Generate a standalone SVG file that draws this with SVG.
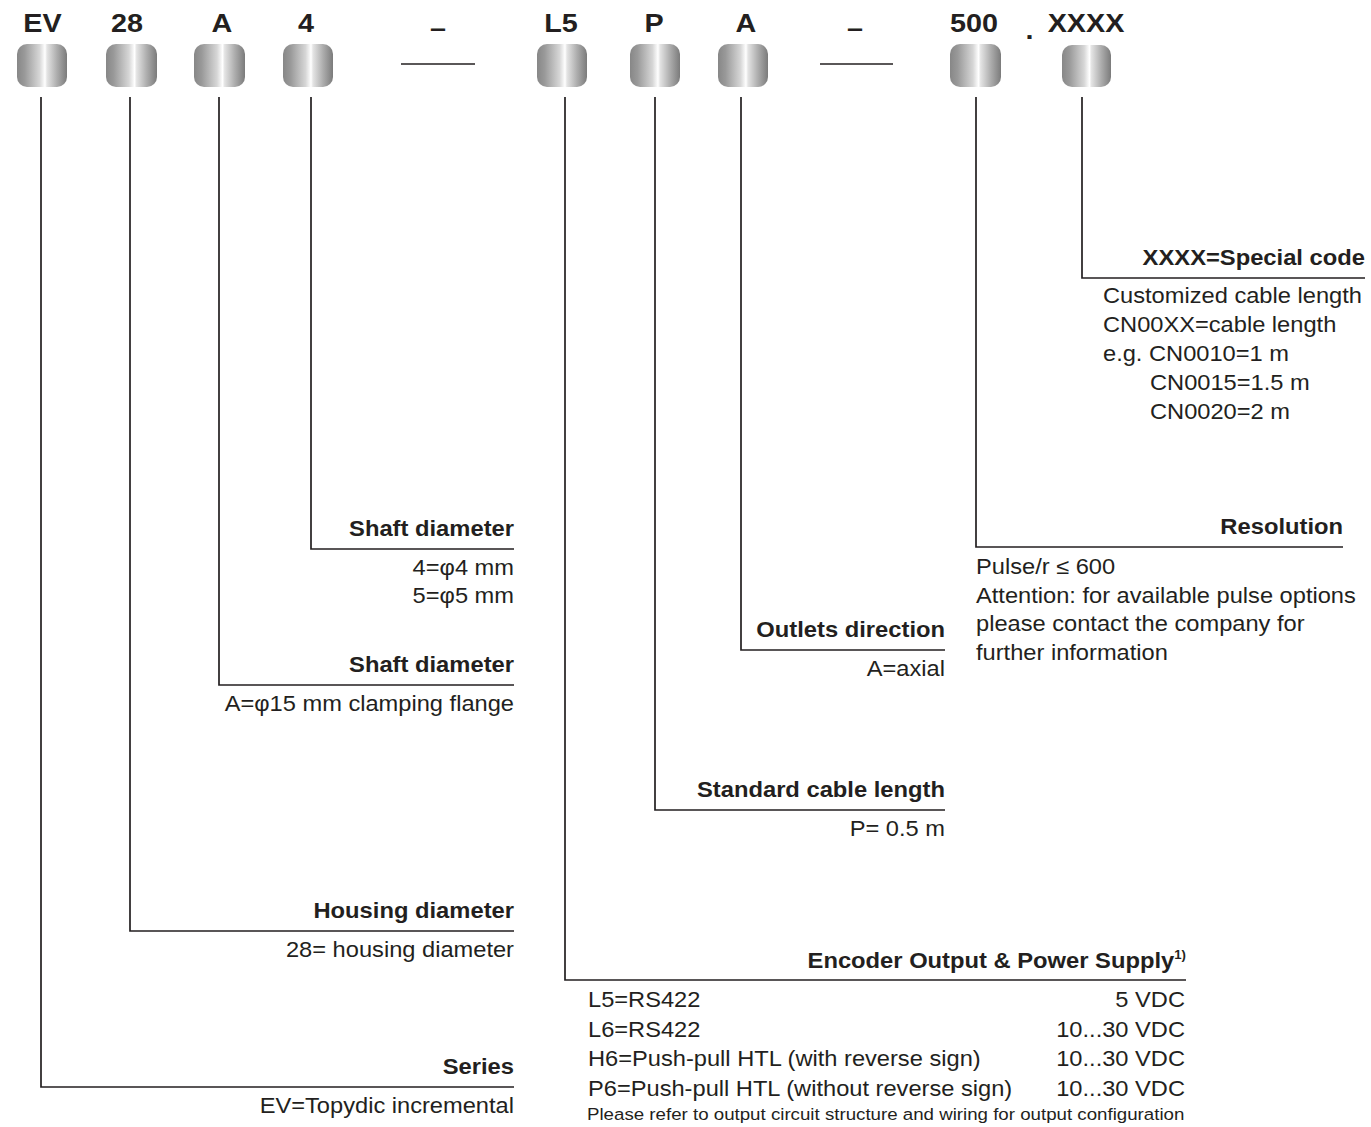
<svg xmlns="http://www.w3.org/2000/svg" width="1371" height="1127" viewBox="0 0 1371 1127">
<defs>
<linearGradient id="metal" x1="0" y1="0" x2="1" y2="0">
<stop offset="0" stop-color="#878787"/>
<stop offset="0.15" stop-color="#999999"/>
<stop offset="0.45" stop-color="#d6d6d6"/>
<stop offset="0.56" stop-color="#ffffff"/>
<stop offset="0.6" stop-color="#e4e4e4"/>
<stop offset="0.8" stop-color="#adadad"/>
<stop offset="1" stop-color="#7b7b7b"/>
</linearGradient>
<style>
.box{fill:url(#metal);}
.conn{fill:none;stroke:#231f20;stroke-width:1.7;}
.sep{stroke:#231f20;stroke-width:1.7;}
text{font-family:"Liberation Sans",Arial,Helvetica,sans-serif;fill:#231f20;}
.code{font-size:25px;font-weight:bold;text-anchor:middle;}
.hd{font-size:21.6px;font-weight:bold;}
.bd{font-size:21.5px;}
.sm{font-size:17px;}
.e{text-anchor:end;}
.s{text-anchor:start;}
</style>
</defs>
<rect width="1371" height="1127" fill="#ffffff"/>

<g id="connectors">
<path class="conn" d="M41,97 V1087 H514"/>
<path class="conn" d="M130,97 V931 H514"/>
<path class="conn" d="M219,97 V685 H514"/>
<path class="conn" d="M311,97 V549 H514"/>
<path class="conn" d="M565,97 V980 H1186"/>
<path class="conn" d="M655,97 V810 H945"/>
<path class="conn" d="M741,97 V650 H945"/>
<path class="conn" d="M976,97 V547 H1343"/>
<path class="conn" d="M1082,97 V278 H1365"/>
</g>

<g id="node-ev">
<rect class="box" x="17" y="44" width="50" height="43" rx="10"/>
<g transform="scale(1.15,1)"><text class="code" x="36.96" y="32">EV</text></g>
<g transform="scale(1.1,1)">
<text class="hd e" x="467.27" y="1074.5">Series</text>
<text class="bd e" x="467.27" y="1113">EV=Topydic incremental</text>
</g>
</g>

<g id="node-28">
<rect class="box" x="106" y="44" width="51" height="43" rx="10"/>
<g transform="scale(1.15,1)"><text class="code" x="110.43" y="32">28</text></g>
<g transform="scale(1.1,1)">
<text class="hd e" x="467.27" y="918.5">Housing diameter</text>
<text class="bd e" x="467.27" y="957">28= housing diameter</text>
</g>
</g>

<g id="node-a-flange">
<rect class="box" x="194" y="44" width="51" height="43" rx="10"/>
<g transform="scale(1.15,1)"><text class="code" x="193.04" y="32">A</text></g>
<g transform="scale(1.1,1)">
<text class="hd e" x="467.27" y="672.5">Shaft diameter</text>
<text class="bd e" x="467.27" y="711">A=φ15 mm clamping flange</text>
</g>
</g>

<g id="node-4">
<rect class="box" x="283" y="44" width="50" height="43" rx="10"/>
<g transform="scale(1.15,1)"><text class="code" x="266.09" y="32">4</text></g>
<g transform="scale(1.1,1)">
<text class="hd e" x="467.27" y="536.5">Shaft diameter</text>
<text class="bd e" x="467.27" y="575">4=φ4 mm</text>
<text class="bd e" x="467.27" y="603.5">5=φ5 mm</text>
</g>
</g>

<g id="separator-1">
<line class="sep" x1="401" y1="64" x2="475" y2="64"/>
<g transform="scale(1.15,1)"><text class="code" x="380.87" y="37">–</text></g>
</g>

<g id="node-l5">
<rect class="box" x="537" y="44" width="50" height="43" rx="10"/>
<g transform="scale(1.15,1)"><text class="code" x="487.83" y="32">L5</text></g>
<g transform="scale(1.1,1)">
<text class="hd e" x="1078.18" y="968">Encoder Output &amp; Power Supply<tspan font-size="12px" dy="-9">1)</tspan></text>
<text class="bd s" x="534.55" y="1007.5">L5=RS422</text>
<text class="bd e" x="1077.27" y="1007.5">5 VDC</text>
<text class="bd s" x="534.55" y="1037">L6=RS422</text>
<text class="bd e" x="1077.27" y="1037">10...30 VDC</text>
<text class="bd s" x="534.55" y="1066.5">H6=Push-pull HTL (with reverse sign)</text>
<text class="bd e" x="1077.27" y="1066.5">10...30 VDC</text>
<text class="bd s" x="534.55" y="1096">P6=Push-pull HTL (without reverse sign)</text>
<text class="bd e" x="1077.27" y="1096">10...30 VDC</text>
<text class="sm s" x="533.64" y="1120.5">Please refer to output circuit structure and wiring for output configuration</text>
</g>
</g>

<g id="node-p">
<rect class="box" x="630" y="44" width="50" height="43" rx="10"/>
<g transform="scale(1.15,1)"><text class="code" x="568.7" y="32">P</text></g>
<g transform="scale(1.1,1)">
<text class="hd e" x="859.09" y="797.5">Standard cable length</text>
<text class="bd e" x="859.09" y="836">P= 0.5 m</text>
</g>
</g>

<g id="node-a-outlet">
<rect class="box" x="718" y="44" width="50" height="43" rx="10"/>
<g transform="scale(1.15,1)"><text class="code" x="648.7" y="32">A</text></g>
<g transform="scale(1.1,1)">
<text class="hd e" x="859.09" y="637.5">Outlets direction</text>
<text class="bd e" x="859.09" y="676">A=axial</text>
</g>
</g>

<g id="separator-2">
<line class="sep" x1="820" y1="64" x2="893" y2="64"/>
<g transform="scale(1.15,1)"><text class="code" x="743.48" y="37">–</text></g>
</g>

<g id="node-500">
<rect class="box" x="950" y="44" width="51" height="43" rx="10"/>
<g transform="scale(1.15,1)"><text class="code" x="846.96" y="32">500</text></g>
<g transform="scale(1.1,1)">
<text class="hd e" x="1220.91" y="534.5">Resolution</text>
<text class="bd s" x="887.27" y="574.5">Pulse/r ≤ 600</text>
<text class="bd s" x="887.27" y="603">Attention: for available pulse options</text>
<text class="bd s" x="887.27" y="631.5">please contact the company for</text>
<text class="bd s" x="887.27" y="660">further information</text>
</g>
</g>

<g id="separator-dot">
<g transform="scale(1.15,1)"><text class="code" x="895.22" y="39">.</text></g>
</g>

<g id="node-xxxx">
<rect class="box" x="1062" y="45" width="49" height="42" rx="10"/>
<g transform="scale(1.15,1)"><text class="code" x="944.35" y="32">XXXX</text></g>
<g transform="scale(1.1,1)">
<text class="hd e" x="1240.91" y="265.5">XXXX=Special code</text>
<text class="bd s" x="1002.73" y="303.5">Customized cable length</text>
<text class="bd s" x="1002.73" y="332.5">CN00XX=cable length</text>
<text class="bd s" x="1002.73" y="361.5">e.g. CN0010=1 m</text>
<text class="bd s" x="1045.45" y="390">CN0015=1.5 m</text>
<text class="bd s" x="1045.45" y="419">CN0020=2 m</text>
</g>
</g>
</svg>
